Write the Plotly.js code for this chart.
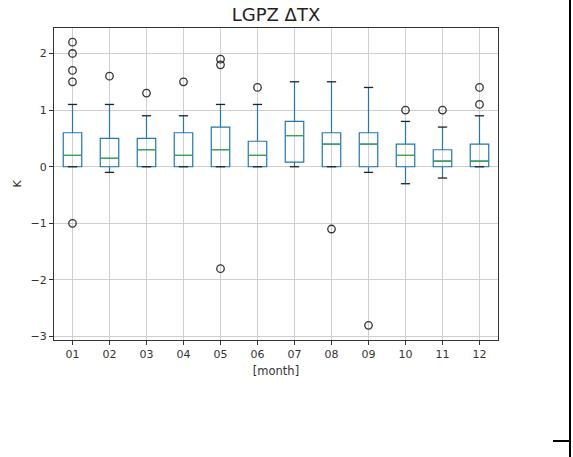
<!DOCTYPE html>
<html>
<head>
<meta charset="utf-8">
<script src="https://cdn.plot.ly/plotly-3.0.1.min.js"></script>
<style>
  html, body { margin: 0; padding: 0; background: #fff; }
  #wrap { position: relative; width: 573px; height: 457px; overflow: hidden; }
  #chart { position: absolute; left: 0; top: 0; width: 573px; height: 457px; }
  .edge { position: absolute; background: #000; }
</style>
</head>
<body>
<div id="wrap">
  <div id="chart"></div>
  <div class="edge" style="left:569px; top:0; width:2px; height:457px;"></div>
  <div class="edge" style="left:553px; top:440px; width:17px; height:2px;"></div>
</div>
<script>
// Monthly distribution of ΔTX at LGPZ (K)
const months = ['01','02','03','04','05','06','07','08','09','10','11','12'];
const q1     = [0, 0, 0, 0, 0, 0, 0.08, 0, 0, 0, 0, 0];
const median = [0.2, 0.15, 0.3, 0.2, 0.3, 0.2, 0.55, 0.4, 0.4, 0.2, 0.1, 0.1];
const q3     = [0.6, 0.5, 0.5, 0.6, 0.7, 0.45, 0.8, 0.6, 0.6, 0.4, 0.3, 0.4];
const whiskerLow  = [0, -0.1, 0, 0, 0, 0, 0, 0, -0.1, -0.3, -0.2, 0];
const whiskerHigh = [1.1, 1.1, 0.9, 0.9, 1.1, 1.1, 1.5, 1.5, 1.4, 0.8, 0.7, 0.9];
const outliers = [
  [2.2, 2.0, 1.7, 1.5, -1.0],
  [1.6],
  [1.3],
  [1.5],
  [1.9, 1.8, -1.8],
  [1.4],
  [],
  [-1.1],
  [-2.8],
  [1.0],
  [1.0],
  [1.4, 1.1]
];

const pos = months.map((m, i) => i + 1);
const boxWidth = 0.5;
const capWidth = 0.25;

// horizontal segments centred on each box position
function segments(values, half) {
  const xs = [], ys = [];
  values.forEach((v, i) => {
    xs.push(pos[i] - half, pos[i] + half, null);
    ys.push(v, v, null);
  });
  return { xs, ys };
}

const med = segments(median, boxWidth / 2);
const capLo = segments(whiskerLow, capWidth / 2);
const capHi = segments(whiskerHigh, capWidth / 2);

const outX = [], outY = [];
outliers.forEach((arr, i) => arr.forEach(v => { outX.push(pos[i]); outY.push(v); }));

const traces = [
  {
    type: 'box',
    x: pos,
    q1: q1,
    median: median,
    q3: q3,
    lowerfence: whiskerLow,
    upperfence: whiskerHigh,
    width: boxWidth,
    whiskerwidth: 0,
    boxpoints: false,
    fillcolor: 'rgba(0,0,0,0)',
    line: { color: '#1f77b4', width: 1.2 },
    hoverinfo: 'skip',
    showlegend: false
  },
  {
    type: 'scatter', mode: 'lines',
    x: med.xs, y: med.ys,
    line: { color: '#3aa83a', width: 1.2 },
    hoverinfo: 'skip', showlegend: false
  },
  {
    type: 'scatter', mode: 'lines',
    x: capLo.xs.concat(capHi.xs), y: capLo.ys.concat(capHi.ys),
    line: { color: '#222', width: 1.3 },
    hoverinfo: 'skip', showlegend: false
  },
  {
    type: 'scatter', mode: 'markers',
    x: outX, y: outY,
    marker: { symbol: 'circle-open', size: 7.5, color: '#333', line: { width: 1.3, color: '#333' } },
    hoverinfo: 'skip', showlegend: false
  }
];

const axisFont = { family: '"DejaVu Sans", sans-serif', size: 11, color: '#333' };

const layout = {
  width: 573,
  height: 457,
  margin: { l: 54, r: 75, t: 28, b: 117 },
  paper_bgcolor: '#fff',
  plot_bgcolor: '#fff',
  font: axisFont,
  title: {
    text: 'LGPZ ΔTX',
    font: { family: '"DejaVu Sans", sans-serif', size: 18, color: '#222' },
    x: 0.5, xref: 'paper', xanchor: 'center',
    y: 1, yref: 'paper', yanchor: 'bottom', pad: { b: 7 }
  },
  xaxis: {
    range: [0.5, 12.5],
    tickmode: 'array',
    tickvals: pos,
    ticktext: months,
    ticks: 'outside', ticklen: 4, tickcolor: '#333', tickwidth: 1,
    showgrid: true, gridcolor: '#cfcfcf', gridwidth: 1,
    showline: true, linecolor: '#333', linewidth: 1, mirror: true,
    zeroline: false,
    tickfont: axisFont,
    title: { text: '[month]', font: { family: '"DejaVu Sans", sans-serif', size: 11.5, color: '#333' }, standoff: 6 }
  },
  yaxis: {
    range: [-3.06, 2.45],
    tickmode: 'array',
    tickvals: [-3, -2, -1, 0, 1, 2],
    ticks: 'outside', ticklen: 4, tickcolor: '#333', tickwidth: 1,
    showgrid: true, gridcolor: '#cfcfcf', gridwidth: 1,
    showline: true, linecolor: '#333', linewidth: 1, mirror: true,
    zeroline: false,
    tickfont: axisFont,
    title: { text: 'K', font: axisFont, standoff: 6 }
  }
};

Plotly.newPlot('chart', traces, layout, { staticPlot: true, displayModeBar: false });
</script>
</body>
</html>
